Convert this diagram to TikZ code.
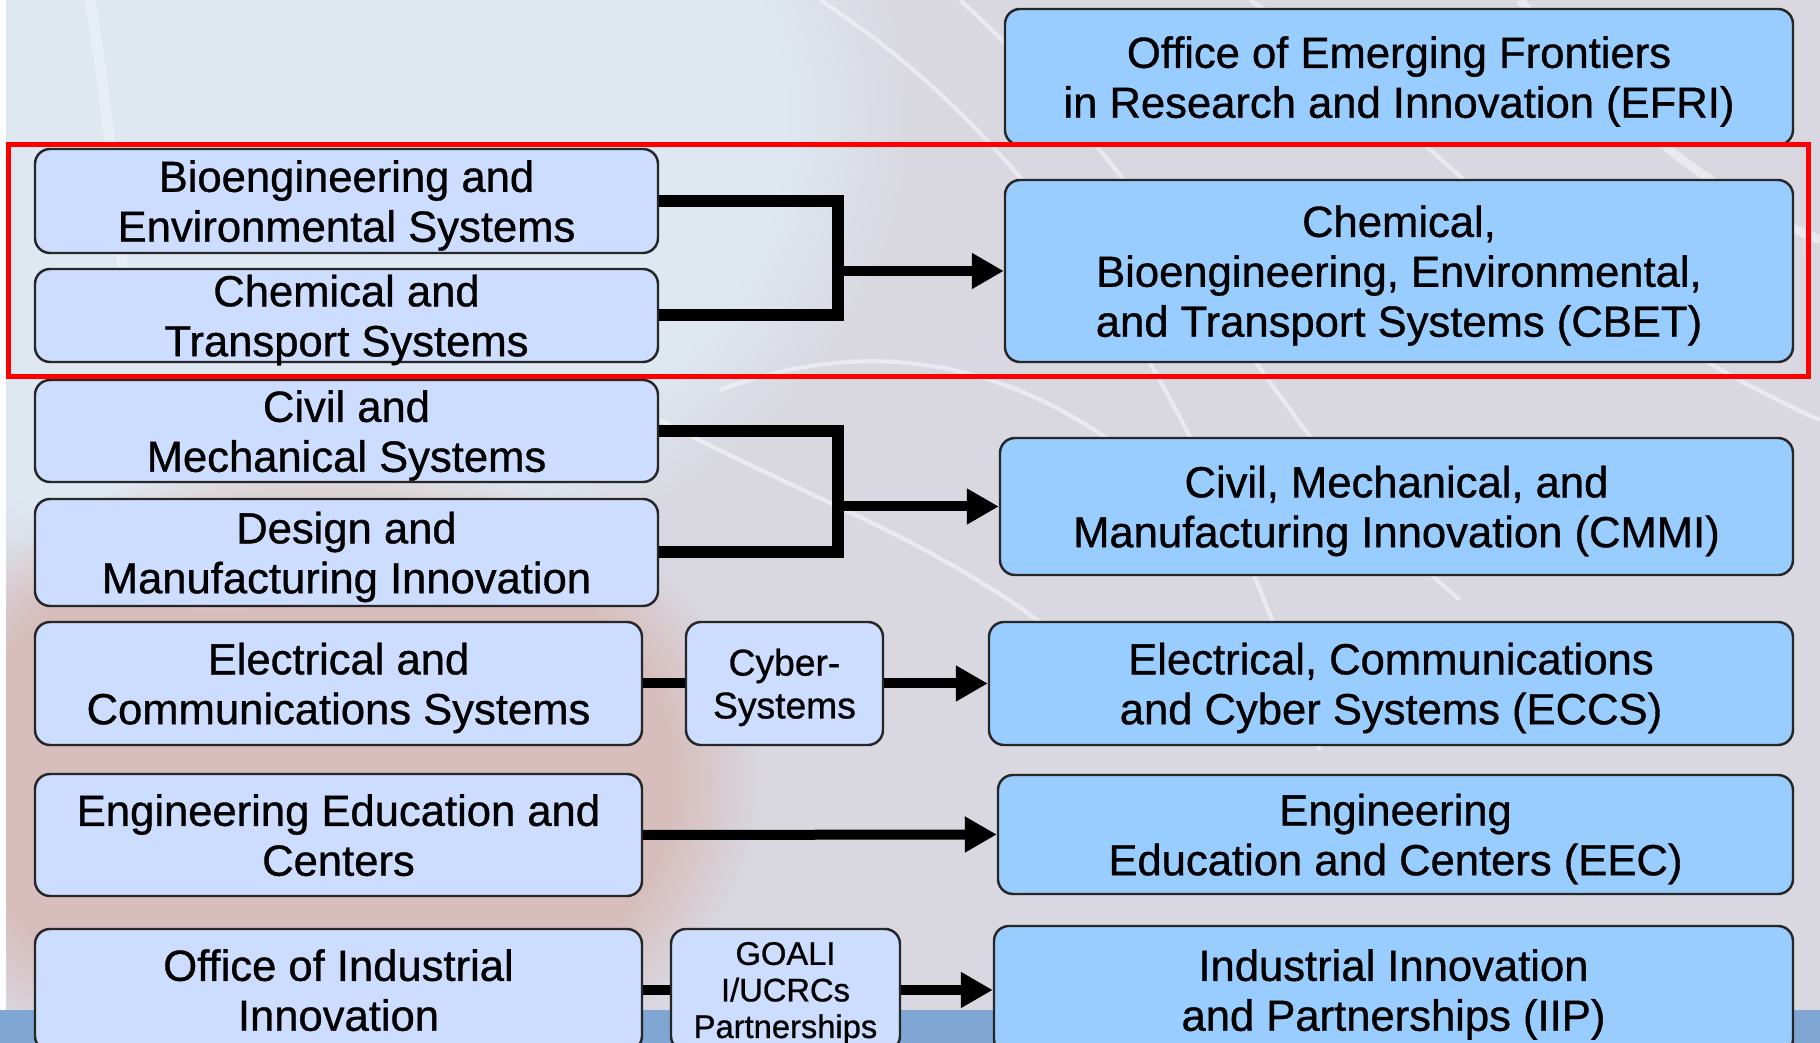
\documentclass[tikz,border=0pt]{standalone}
\usepackage{fontspec}
\setmainfont{Liberation Sans}
\newfontfamily\boxfont{Liberation Sans}[FakeBold=0.8]
\usepackage{tikz}
\usetikzlibrary{arrows.meta,fadings}

\definecolor{oldfill}{RGB}{204,221,255}
\definecolor{newfill}{RGB}{153,204,255}
\definecolor{bggrey}{RGB}{217,215,224}
\definecolor{bgblue}{RGB}{224,234,243}
\definecolor{bgred}{RGB}{214,160,145}
\definecolor{bandblue}{RGB}{128,166,212}

\begin{document}
\begin{tikzpicture}[
    oldbox/.style={draw=black!85, line width=0.7pt, rounded corners=0.15cm,
      fill=oldfill, align=center, inner sep=0pt, text depth=-0.8pt,
      font=\boxfont\fontsize{12.4}{14.2}\selectfont},
    newbox/.style={oldbox, fill=newfill},
    midbox/.style={oldbox, font=\boxfont\fontsize{10.6}{12.2}\selectfont},
    tinybox/.style={oldbox, font=\boxfont\fontsize{9.3}{10.4}\selectfont},
    link/.style={line width=0.12cm, line join=miter},
    feed/.style={line width=0.1cm, -{Triangle[length=0.32cm,width=0.34cm]}},
    wisp/.style={white, opacity=0.45, line width=1.2pt}
  ]
  \useasboundingbox (0,0) rectangle (18.2,-10.43);

  % Backdrop
  \fill[bggrey] (0,0) rectangle (18.2,-10.43);
  \fill[bgblue, opacity=0.9, path fading=circle with fuzzy edge 20 percent]
    (2.2,-1.2) ellipse (7 and 5);
  \fill[bgred, opacity=0.45, path fading=circle with fuzzy edge 20 percent]
    (3.2,-7.8) ellipse (4.4 and 3.3);
  \fill[white!92!bgblue] (0,0) rectangle (0.06,-10.1);
  \draw[wisp] (8.2,0) .. controls (10.5,-1.5) and (12,-4) .. (13.2,-7.5);
  \draw[wisp] (9.6,0) .. controls (11.8,-2) and (12.8,-4.5) .. (14.6,-6);
  \draw[wisp, line width=2.5pt] (15.2,0) .. controls (16.2,-1.2) and (17.2,-2) .. (18.2,-2.4);
  \draw[wisp] (12.5,0) .. controls (14,-1) and (15.5,-3) .. (18.2,-4.2);
  \draw[wisp] (6.6,-4.2) .. controls (8.5,-5.2) and (10,-5.6) .. (11.5,-7.2);
  \draw[wisp] (7.2,-3.9) .. controls (8.8,-3.3) and (10.5,-3.6) .. (12,-5.2);
  \draw[wisp, opacity=0.3, line width=3pt] (0.9,0) .. controls (1.1,-1.2) and (1.2,-2.4) .. (1.3,-3.4);
  \fill[bandblue] (0,-10.1) rectangle (18.2,-10.43);

  % Old divisions
  \node[oldbox, minimum width=6.23cm, minimum height=1.04cm] (bes) at (3.465,-2.01)
    {Bioengineering and\\Environmental Systems};
  \node[oldbox, minimum width=6.23cm, minimum height=0.93cm] (cts) at (3.465,-3.155)
    {Chemical and\\Transport Systems};
  \node[oldbox, minimum width=6.23cm, minimum height=1.02cm] (cms) at (3.465,-4.31)
    {Civil and\\Mechanical Systems};
  \node[oldbox, minimum width=6.23cm, minimum height=1.07cm] (dmi) at (3.465,-5.525)
    {Design and\\Manufacturing Innovation};
  \node[oldbox, minimum width=6.07cm, minimum height=1.23cm] (ecs) at (3.385,-6.835)
    {Electrical and\\Communications Systems};
  \node[oldbox, minimum width=6.07cm, minimum height=1.22cm, text depth=-3.2pt] (ee) at (3.385,-8.35)
    {Engineering Education and\\Centers};
  \node[oldbox, minimum width=6.07cm, minimum height=1.22cm, text depth=-3.2pt] (oii) at (3.385,-9.9)
    {Office of Industrial\\Innovation};

  % Programs in between
  \node[midbox, minimum width=1.97cm, minimum height=1.23cm] (cyber) at (7.845,-6.835)
    {Cyber-\\Systems};
  \node[tinybox, minimum width=2.29cm, minimum height=1.22cm] (goali) at (7.855,-9.9)
    {GOALI\\I/UCRCs\\Partnerships};

  % New divisions
  \node[newbox, minimum width=7.88cm, minimum height=1.36cm] (efri) at (13.99,-0.77)
    {Office of Emerging Frontiers\\in Research and Innovation (EFRI)};
  \node[newbox, minimum width=7.88cm, minimum height=1.82cm] (cbet) at (13.99,-2.71)
    {Chemical,\\Bioengineering, Environmental,\\and Transport Systems (CBET)};
  \node[newbox, minimum width=7.93cm, minimum height=1.37cm] (cmmi) at (13.965,-5.065)
    {Civil, Mechanical, and\\Manufacturing Innovation (CMMI)};
  \node[newbox, minimum width=8.04cm, minimum height=1.23cm] (eccs) at (13.91,-6.835)
    {Electrical, Communications\\and Cyber Systems (ECCS)};
  \node[newbox, minimum width=7.95cm, minimum height=1.19cm] (eec) at (13.955,-8.345)
    {Engineering\\Education and Centers (EEC)};
  \node[newbox, minimum width=7.99cm, minimum height=1.28cm] (iip) at (13.935,-9.9)
    {Industrial Innovation\\and Partnerships (IIP)};

  % Merges
  \coordinate (jcbet) at (8.38,-2.71);
  \coordinate (jcmmi) at (8.38,-5.065);
  \draw[link] (bes.east) -| (jcbet |- cts.east) -- (cts.east);
  \draw[feed] (jcbet) -- (cbet.west);
  \draw[link] (cms.east) -| (jcmmi |- dmi.east) -- (dmi.east);
  \draw[feed] (jcmmi) -- (cmmi.west);

  % Straight moves
  \draw[line width=0.1cm] (ecs.east) -- (cyber.west);
  \draw[feed] (cyber.east) -- (eccs.west);
  \draw[feed] (ee.east) -- (eec.west);
  \draw[line width=0.1cm] (oii.east) -- (goali.west);
  \draw[feed] (goali.east) -- (iip.west);

  % Highlight
  \draw[red, line width=0.05cm] (0.09,-1.45) rectangle (18.08,-3.77);
\end{tikzpicture}
\end{document}
